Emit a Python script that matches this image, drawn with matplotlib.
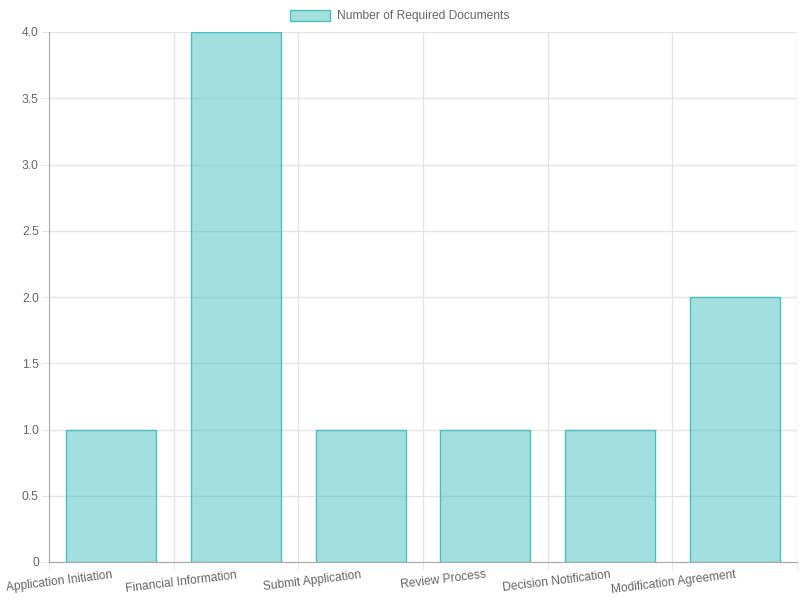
import numpy as np
from matplotlib import pyplot as plt

steps = ['Application Initiation', 'Financial Information', 'Submit Application',
         'Review Process', 'Decision Notification', 'Modification Agreement']
documents = [1, 4, 1, 1, 1, 2]
y_ticks = [0, 0.5, 1.0, 1.5, 2.0, 2.5, 3.0, 3.5, 4.0]

plt.rcParams['font.family'] = ['Liberation Sans', 'DejaVu Sans']
text_col = '#666666'
grid_col = '#e5e5e5'
fs = 8.64  # 12px

fig = plt.figure(figsize=(8, 6), dpi=100)
ax = fig.add_axes([49/800, 1-562/600, 748/800, 530/600])

x = np.arange(len(steps))
ax.bar(x, documents, width=0.72, color=(75/255, 192/255, 192/255, 0.5),
       edgecolor=(75/255, 192/255, 192/255), linewidth=1,
       label='Number of Required Documents', zorder=3)

ax.set_xlim(-0.5, len(steps) - 0.5)
ax.set_ylim(0, 4)

ax.set_yticks(y_ticks)
ax.set_yticklabels(['0'] + ['%.1f' % v for v in y_ticks[1:]])
ax.set_xticks(x)
ax.set_xticklabels(steps, rotation=7, ha='right', rotation_mode='anchor')
ax.set_xticks(np.arange(-0.5, len(steps)), minor=True)

ax.tick_params(axis='x', which='major', length=0, pad=5, labelsize=fs, labelcolor=text_col)
ax.tick_params(axis='x', which='minor', length=5.8, color=grid_col)
ax.tick_params(axis='y', length=5.8, color=grid_col, labelsize=fs, labelcolor=text_col, pad=1.5)

ax.grid(True, axis='y', color=grid_col, linewidth=1, zorder=0)
ax.grid(True, axis='x', which='minor', color=grid_col, linewidth=1, zorder=0)
ax.grid(False, axis='x', which='major')

for side in ['top', 'right']:
    ax.spines[side].set_visible(False)
for side in ['left', 'bottom']:
    ax.spines[side].set_color('#aaaaaa')
    ax.spines[side].set_zorder(4)

leg = fig.legend(loc='center', bbox_to_anchor=(0.5, 1-16/600), frameon=False,
                 fontsize=fs, handlelength=3.33, handleheight=1.0, handletextpad=0.58)
for t in leg.get_texts():
    t.set_color(text_col)

fig.savefig('out.png', dpi=100)
